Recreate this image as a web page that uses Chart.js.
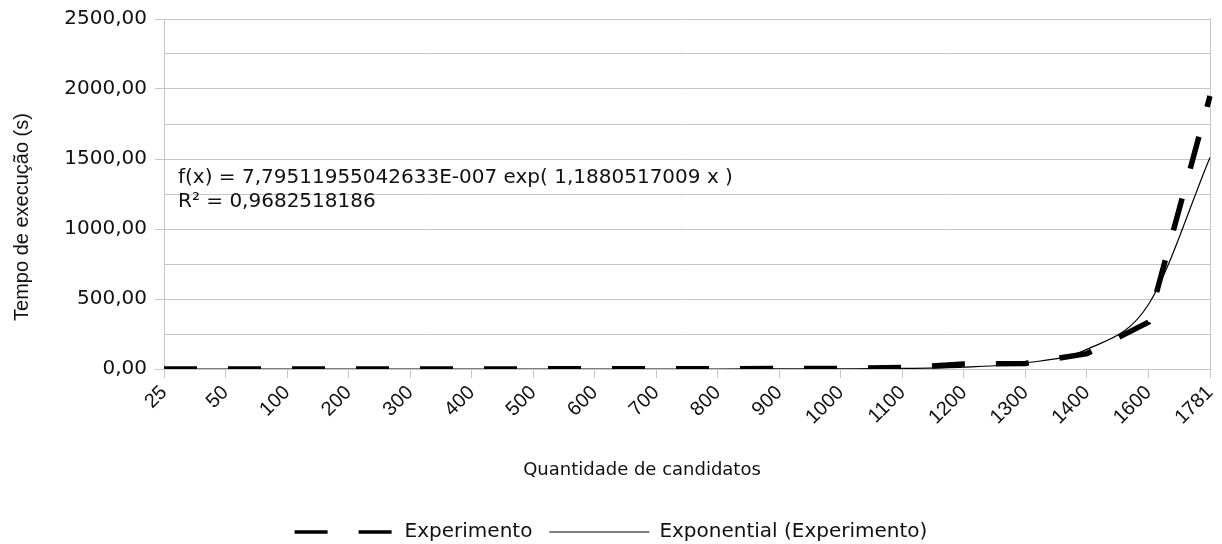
<!DOCTYPE html>
<html>
<head>
<meta charset="utf-8">
<title>Tempo de execução</title>
<style>
  html, body { margin: 0; padding: 0; background: #ffffff; }
  #wrap { width: 1222px; height: 544px; }
</style>
<script src="https://cdn.jsdelivr.net/npm/chart.js@4.4.1/dist/chart.umd.min.js"></script>
</head>
<body>
<div id="wrap"><canvas id="chart" width="1222" height="544"></canvas></div>
<script>
// Quantidade de candidatos (eixo X)
const categories = ['25', '50', '100', '200', '300', '400', '500', '600', '700',
                    '800', '900', '1000', '1100', '1200', '1300', '1400', '1600', '1781'];

// Tempo de execução medido (s)
const experimento = [0.02, 0.03, 0.06, 0.15, 0.3, 0.5, 0.8, 1.2, 1.7,
                     2.3, 3, 4, 10, 35, 40, 110, 335, 1950];

// Linha de tendência exponencial nos mesmos pontos
const exponencial = [0.0000026, 0.0000084, 0.0000275, 0.0000903, 0.000296, 0.000971,
                     0.00319, 0.01046, 0.0343, 0.1126, 0.369, 1.212,
                     3.975, 13.04, 42.78, 140.4, 460.6, 1511];

const yTicks = { min: 0, max: 2500, step: 250, labelEvery: 500 };

const seriesNames = ['Experimento', 'Exponential (Experimento)'];
const equationLines = ['f(x) = 7,79511955042633E-007 exp( 1,1880517009 x )',
                       'R² = 0,9682518186'];
const xTitle = 'Quantidade de candidatos';
const yTitle = 'Tempo de execução (s)';

const GRID = '#c6c6c6';
const TEXT = '#111111';
const DASH = [33, 31];
const PAD_BOTTOM = -8;

// Axis titles and the trend-line equation, drawn as canvas text
const annotations = {
  id: 'annotations',
  afterDraw(chart) {
    const { ctx, chartArea } = chart;
    ctx.save();
    ctx.fillStyle = TEXT;

    ctx.font = '20px "DejaVu Sans"';
    ctx.textAlign = 'left';
    ctx.textBaseline = 'middle';
    ctx.fillText(equationLines[0], chartArea.left + 14, chartArea.top + 159);
    ctx.fillText(equationLines[1], chartArea.left + 14, chartArea.top + 183);

    ctx.font = '18px "DejaVu Sans"';
    ctx.textAlign = 'center';
    ctx.fillText(xTitle, 642, 470);

    ctx.translate(22, 217);
    ctx.rotate(-Math.PI / 2);
    ctx.font = '20px "Liberation Sans"';
    ctx.fillText(yTitle, 0, 0);
    ctx.restore();
  }
};

new Chart(document.getElementById('chart'), {
  type: 'line',
  data: {
    labels: categories,
    datasets: [
      {
        label: seriesNames[0],
        data: experimento,
        borderColor: '#000000',
        backgroundColor: '#000000',
        borderWidth: 5.5,
        borderDash: DASH,
        borderCapStyle: 'butt',
        pointRadius: 0,
        tension: 0,
        yAxisID: 'y'
      },
      {
        label: seriesNames[1],
        data: exponencial,
        borderColor: '#000000',
        backgroundColor: '#000000',
        borderWidth: 1.2,
        pointRadius: 0,
        cubicInterpolationMode: 'monotone',
        yAxisID: 'y'
      }
    ]
  },
  options: {
    responsive: false,
    animation: false,
    devicePixelRatio: 1,
    layout: { padding: { top: 19, left: 0, right: 0, bottom: PAD_BOTTOM } },
    plugins: {
      tooltip: { enabled: false },
      title: { display: false },
      legend: {
        position: 'bottom',
        labels: {
          usePointStyle: true,
          pointStyleWidth: 100,
          boxWidth: 100,
          padding: 17,
          color: TEXT,
          font: { family: 'DejaVu Sans', size: 20 },
          generateLabels: (chart) => chart.data.datasets.map((ds, i) => ({
            text: ds.label,
            fillStyle: '#000000',
            strokeStyle: '#000000',
            lineWidth: i === 0 ? 3.5 : 1.2,
            lineDash: i === 0 ? DASH : [],
            lineCap: 'butt',
            pointStyle: 'line',
            fontColor: TEXT,
            hidden: false,
            datasetIndex: i
          }))
        }
      }
    },
    scales: {
      x: {
        type: 'category',
        offset: false,
        grid: {
          drawOnChartArea: false,
          drawTicks: true,
          tickLength: 9,
          color: GRID,
          tickColor: GRID
        },
        border: { display: true, color: GRID, width: 1 },
        ticks: {
          autoSkip: false,
          maxRotation: 45,
          minRotation: 45,
          padding: 3,
          color: TEXT,
          font: { family: 'Liberation Sans', size: 20 }
        },
        afterFit: (scale) => {
          const legendH = scale.chart.legend ? scale.chart.legend.height : 50;
          scale.height = 544 - 369 - legendH - PAD_BOTTOM;
          scale.paddingLeft = 0;
          scale.paddingRight = 0;
        }
      },
      y: {
        position: 'left',
        min: yTicks.min,
        max: yTicks.max,
        grid: {
          color: GRID,
          lineWidth: 1,
          tickLength: 9,
          tickColor: (ctx) => (ctx.tick && ctx.tick.value % yTicks.labelEvery === 0) ? GRID : 'rgba(0,0,0,0)'
        },
        border: { display: true, color: GRID, width: 1 },
        ticks: {
          stepSize: yTicks.step,
          padding: 8,
          color: TEXT,
          font: { family: 'DejaVu Sans', size: 20 },
          callback: (v) => (v % yTicks.labelEvery === 0) ? v.toFixed(2).replace('.', ',') : ''
        },
        afterFit: (scale) => {
          scale.width = 164;
          scale.paddingTop = 0;
          scale.paddingBottom = 0;
        }
      },
      yRight: {
        position: 'right',
        min: yTicks.min,
        max: yTicks.max,
        grid: { drawOnChartArea: false, drawTicks: false },
        border: { display: true, color: GRID, width: 1 },
        ticks: { display: false },
        afterFit: (scale) => { scale.width = 12; }
      }
    }
  },
  plugins: [annotations]
});
</script>
</body>
</html>
